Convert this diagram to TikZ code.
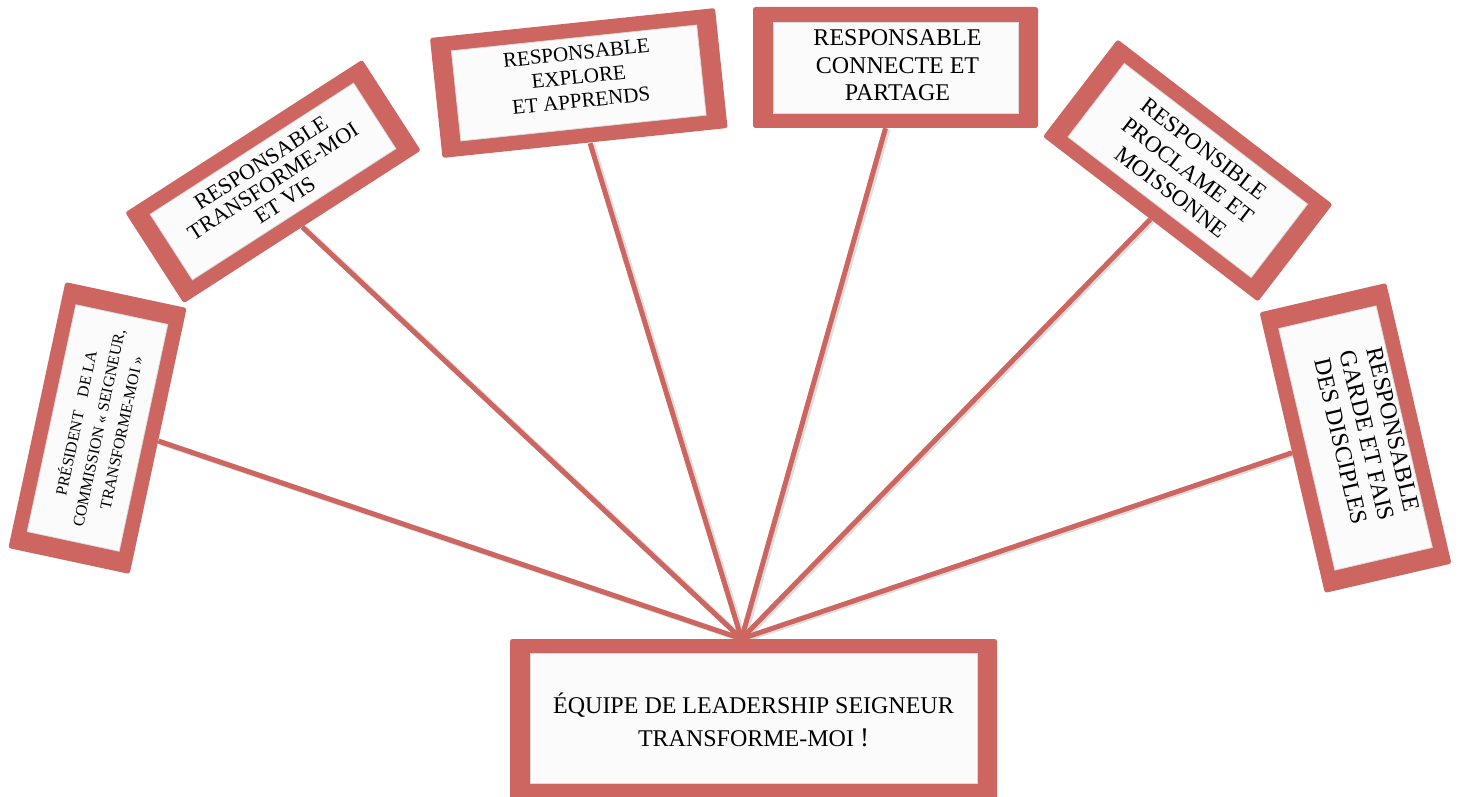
\documentclass[tikz,border=0pt]{standalone}
\usepackage{fontspec}
\setmainfont{Liberation Serif}
\usetikzlibrary{calc,backgrounds}
\definecolor{boxred}{RGB}{205,102,96}
\definecolor{boxwhite}{RGB}{251,251,251}
\begin{document}
\begin{tikzpicture}[x=1pt,y=-1pt,
  outerbox/.style={fill=boxred, rounded corners=2.5pt, inner sep=0pt, draw=none},
  innerbox/.style={fill=boxwhite, draw=black!14, line width=0.8pt, inner sep=0pt},
  boxtext/.style={inner sep=0pt, align=center, text=black},
  conn/.style={draw=boxred, line width=5pt},
  connshadow/.style={draw=black, opacity=0.13, line width=6pt}
]
\useasboundingbox (0,0) rectangle (1461,797);
\clip (0,0) rectangle (1461,797);

% bottom box
\node[outerbox, minimum width=487pt, minimum height=161pt] (b0) at (753.5,719.5) {};
\node[innerbox, minimum width=447pt, minimum height=130pt] (i0) at (753.5,718) {};
\node[boxtext, font=\fontsize{24}{33}\selectfont] (t0) at (753.5,720)
  {ÉQUIPE DE LEADERSHIP SEIGNEUR\\TRANSFORME-MOI {\fontsize{27}{33}\selectfont !}};

% box 1
\node[outerbox, minimum width=272pt, minimum height=124pt, rotate=77.9] (b1) at (97.5,428) {};
\node[innerbox, minimum width=232pt, minimum height=94pt, rotate=77.9] (i1) at (b1.center) {};
\node[boxtext, rotate=77.9, font=\fontsize{16}{23}\selectfont] (t1) at (b1.center)
  {PRÉSIDENT\hspace{0.9em}DE LA\\COMMISSION « SEIGNEUR,\\TRANSFORME-MOI »};

% box 2
\node[outerbox, minimum width=282pt, minimum height=108pt, rotate=32.8] (b2) at (273,181.5) {};
\node[innerbox, minimum width=242pt, minimum height=78pt, rotate=32.8] (i2) at (b2.center) {};
\node[boxtext, rotate=32.8, font=\fontsize{22}{22}\selectfont] (t2) at (b2.center)
  {RESPONSABLE\\TRANSFORME-MOI\\ET VIS};

% box 3
\node[outerbox, minimum width=286.6pt, minimum height=120.6pt, rotate=6] (b3) at (578.75,83) {};
\node[innerbox, minimum width=246.6pt, minimum height=90.6pt, rotate=6] (i3) at (b3.center) {};
\node[boxtext, rotate=6, font=\fontsize{21}{24}\selectfont] (t3) at ($(b3.center)+(0,-6)$)
  {RESPONSABLE\\EXPLORE\\ET APPRENDS};

% box 4
\node[outerbox, minimum width=285pt, minimum height=121pt] (b4) at (895.5,67.5) {};
\node[innerbox, minimum width=245pt, minimum height=91pt] (i4) at (b4.center) {};
\node[boxtext, font=\fontsize{24}{27.5}\selectfont] (t4) at ($(b4.center)+(2,-2)$)
  {RESPONSABLE\\CONNECTE ET\\PARTAGE};

% box 5
\node[outerbox, minimum width=271pt, minimum height=122.6pt, rotate=-37.5] (b5) at (1187.75,170.5) {};
\node[innerbox, minimum width=231pt, minimum height=92.6pt, rotate=-37.5] (i5) at (b5.center) {};
\node[boxtext, rotate=-37.5, font=\fontsize{23}{27}\selectfont] (t5) at (b5.center)
  {RESPONSIBLE\\PROCLAME ET\\MOISSONNE};

% box 6
\node[outerbox, minimum width=288pt, minimum height=130pt, rotate=-76.9] (b6) at (1355.5,438) {};
\node[innerbox, minimum width=248pt, minimum height=100pt, rotate=-76.9] (i6) at (b6.center) {};
\node[boxtext, rotate=-76.9, font=\fontsize{24}{27}\selectfont] (t6) at ($(b6.center)+(11.7,-2.7)$)
  {RESPONSABLE\\GARDE ET FAIS\\DES DISCIPLES};

\coordinate (hub) at ($(b0.north)+(-12,0)$);

\begin{scope}[on background layer]
  \foreach \e in {b1.south, b2.south, b5.south, b6.south}{
    \draw[connshadow] ($(hub)+(2,1)$) -- ($(\e)+(2,1)$);
  }
  \draw[connshadow] ($(hub)+(2,1)$) -- ($(b3.south)+(7,1)$);
  \draw[connshadow] ($(hub)+(2,1)$) -- ($(b4.south)+(-8,1)$);
  \draw[conn] (hub) -- (b1.south);
  \draw[conn] (hub) -- (b2.south);
  \draw[conn] (hub) -- ($(b3.south)+(5,0)$);
  \draw[conn] (hub) -- ($(b4.south)+(-10,0)$);
  \draw[conn] (hub) -- (b5.south);
  \draw[conn] (hub) -- (b6.south);
\end{scope}
\end{tikzpicture}
\end{document}
